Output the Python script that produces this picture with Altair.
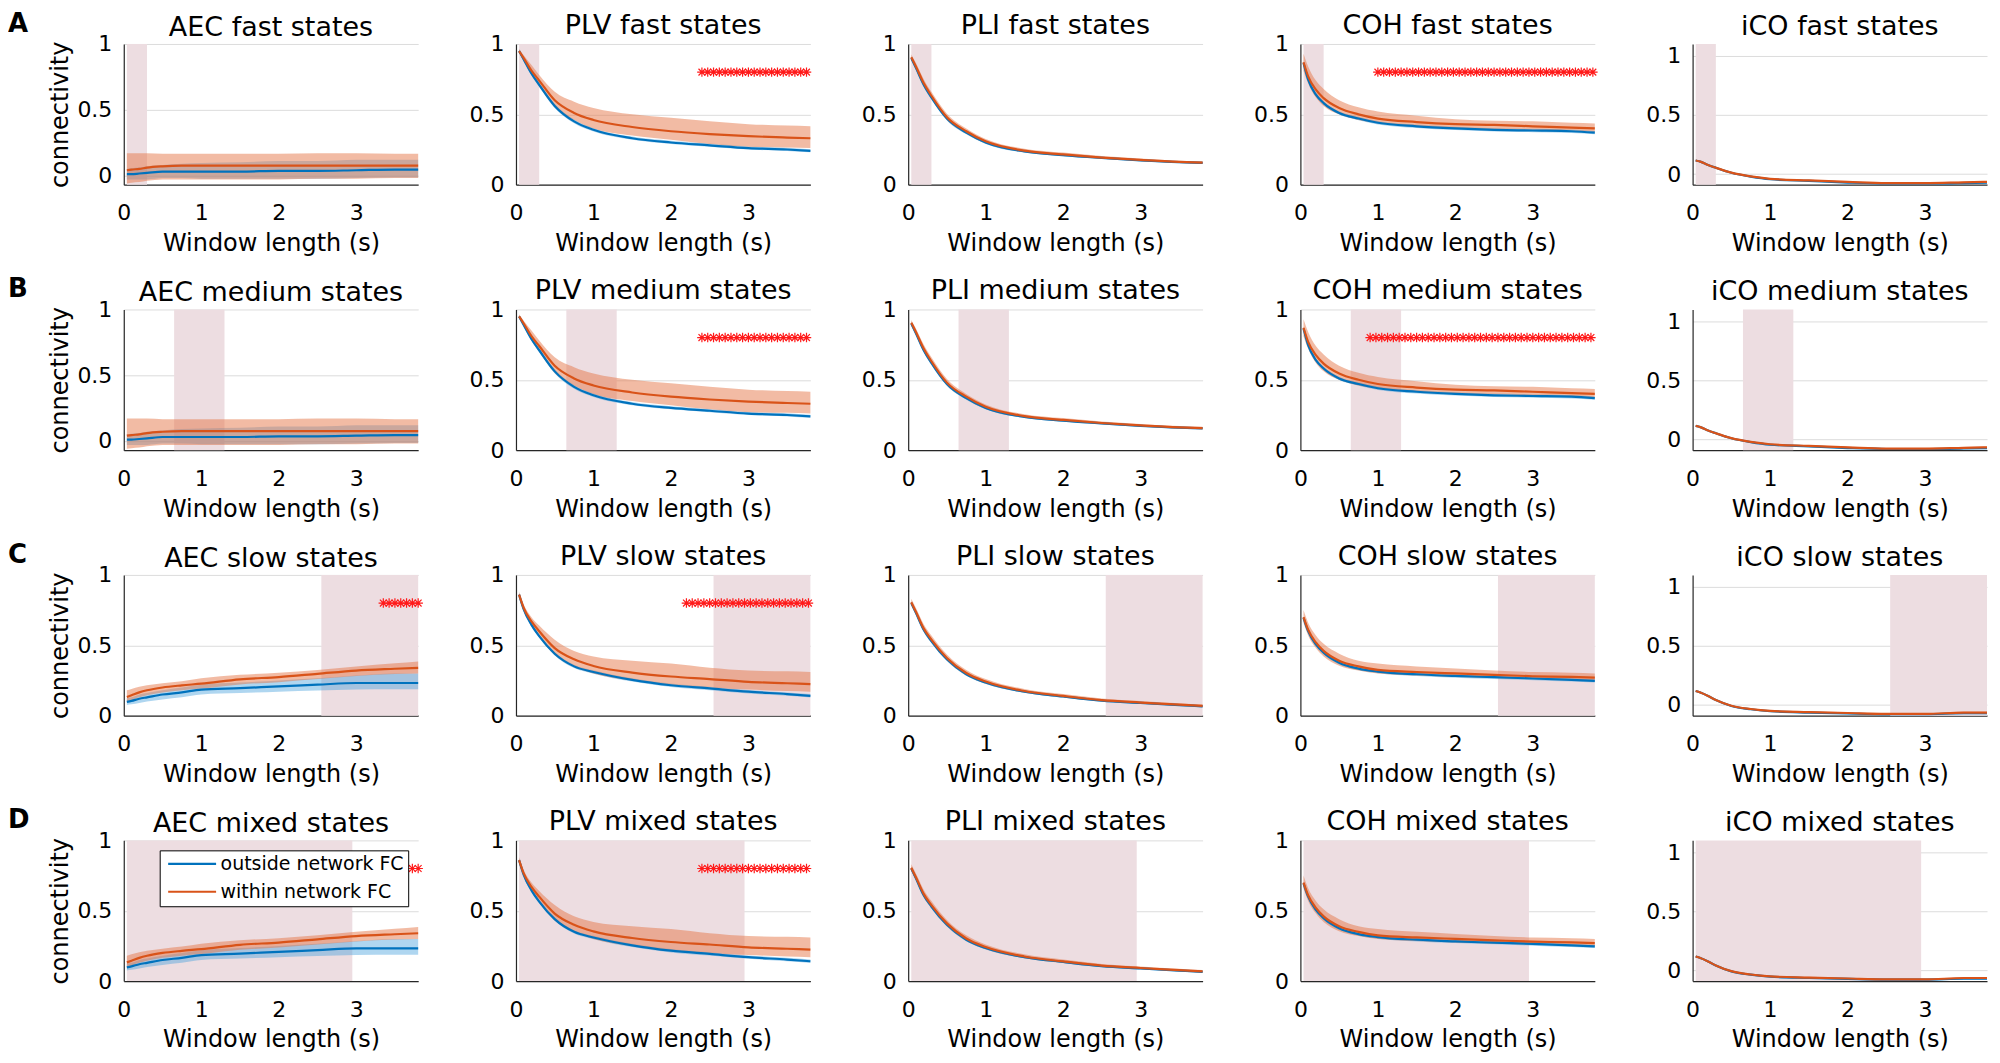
import altair as alt
import numpy as np
import pandas as pd

FONT = "DejaVu Sans"
BLUE = "#0072BD"
ORANGE = "#D95319"
BLUE_BAND = "#4da3dd"
ORANGE_BAND = "#e5784a"
HL_COLOR = "#eddde1"
STAR_RED = "#ff1a1a"

# ---------------- data ----------------
WIN = [0.04, 0.1, 0.2, 0.3, 0.5, 0.75, 1.0, 1.5, 2.0, 2.5, 3.0, 3.5, 3.8]
METRICS = ["AEC", "PLV", "PLI", "COH", "iCO"]
STATES = ["fast", "medium", "slow", "mixed"]
ROW_LETTERS = ["A", "B", "C", "D"]
STATE_GROUP = {"fast": 1, "medium": 1, "slow": 2, "mixed": 2}
SERIES = ["outside network FC", "within network FC"]
X_TICKS = [0, 1, 2, 3]
Y_TICKS = [0, 0.5, 1]
X_RANGE = [0, 3.8]

# group 1 (fast / medium states)
AEC1_OUT_MEAN = [0.010, 0.010, 0.015, 0.020, 0.030, 0.030, 0.030, 0.030, 0.035, 0.035, 0.040, 0.045, 0.045]
AEC1_OUT_LO = [-0.030, -0.030, -0.030, -0.030, -0.020, -0.020, -0.025, -0.025, -0.025, -0.025, -0.020, -0.015, -0.015]
AEC1_OUT_HI = [0.050, 0.055, 0.060, 0.070, 0.080, 0.090, 0.095, 0.100, 0.110, 0.110, 0.120, 0.120, 0.120]
AEC1_IN_MEAN = [0.040, 0.045, 0.050, 0.060, 0.070, 0.075, 0.075, 0.075, 0.075, 0.075, 0.075, 0.075, 0.075]
AEC1_IN_LO = [-0.060, -0.055, -0.050, -0.040, -0.030, -0.030, -0.030, -0.030, -0.030, -0.025, -0.025, -0.020, -0.020]
AEC1_IN_HI = [0.170, 0.170, 0.170, 0.170, 0.165, 0.165, 0.165, 0.165, 0.165, 0.170, 0.170, 0.165, 0.165]

PLV1_OUT_MEAN = [0.950, 0.890, 0.790, 0.710, 0.560, 0.450, 0.390, 0.330, 0.300, 0.280, 0.260, 0.250, 0.240]
PLV1_OUT_LO = [0.940, 0.875, 0.775, 0.695, 0.545, 0.437, 0.378, 0.320, 0.290, 0.270, 0.250, 0.240, 0.230]
PLV1_OUT_HI = [0.960, 0.905, 0.805, 0.725, 0.575, 0.463, 0.402, 0.342, 0.312, 0.292, 0.272, 0.262, 0.252]
PLV1_IN_MEAN = [0.950, 0.900, 0.810, 0.740, 0.600, 0.510, 0.460, 0.410, 0.380, 0.360, 0.345, 0.335, 0.330]
PLV1_IN_LO = [0.940, 0.880, 0.780, 0.700, 0.550, 0.460, 0.400, 0.350, 0.320, 0.290, 0.270, 0.265, 0.260]
PLV1_IN_HI = [0.965, 0.920, 0.850, 0.780, 0.660, 0.590, 0.545, 0.500, 0.475, 0.450, 0.430, 0.420, 0.415]

PLI1_OUT_MEAN = [0.900, 0.830, 0.710, 0.620, 0.470, 0.370, 0.300, 0.237, 0.210, 0.190, 0.173, 0.160, 0.155]
PLI1_OUT_LO = [0.885, 0.815, 0.695, 0.605, 0.457, 0.358, 0.290, 0.228, 0.202, 0.182, 0.166, 0.153, 0.148]
PLI1_OUT_HI = [0.915, 0.845, 0.725, 0.635, 0.483, 0.382, 0.310, 0.246, 0.218, 0.198, 0.180, 0.167, 0.162]
PLI1_IN_MEAN = [0.905, 0.840, 0.722, 0.632, 0.480, 0.380, 0.308, 0.242, 0.215, 0.193, 0.176, 0.162, 0.157]
PLI1_IN_LO = [0.885, 0.820, 0.700, 0.610, 0.460, 0.362, 0.292, 0.230, 0.204, 0.184, 0.167, 0.154, 0.149]
PLI1_IN_HI = [0.925, 0.865, 0.750, 0.660, 0.505, 0.400, 0.325, 0.256, 0.228, 0.204, 0.186, 0.171, 0.166]

COH1_OUT_MEAN = [0.865, 0.746, 0.640, 0.580, 0.510, 0.470, 0.440, 0.415, 0.400, 0.390, 0.385, 0.380, 0.370]
COH1_OUT_LO = [0.853, 0.734, 0.628, 0.568, 0.498, 0.458, 0.428, 0.403, 0.388, 0.378, 0.373, 0.368, 0.358]
COH1_OUT_HI = [0.877, 0.758, 0.652, 0.592, 0.522, 0.482, 0.452, 0.427, 0.412, 0.402, 0.397, 0.392, 0.382]
COH1_IN_MEAN = [0.870, 0.770, 0.675, 0.615, 0.545, 0.500, 0.470, 0.445, 0.430, 0.425, 0.415, 0.405, 0.400]
COH1_IN_LO = [0.810, 0.720, 0.620, 0.560, 0.500, 0.460, 0.440, 0.415, 0.400, 0.395, 0.390, 0.385, 0.375]
COH1_IN_HI = [0.930, 0.840, 0.740, 0.680, 0.600, 0.550, 0.520, 0.490, 0.465, 0.455, 0.450, 0.440, 0.435]

ICO1_OUT_MEAN = [0.115, 0.105, 0.076, 0.053, 0.011, -0.022, -0.044, -0.058, -0.072, -0.080, -0.080, -0.076, -0.072]
ICO1_OUT_LO = [0.109, 0.099, 0.070, 0.047, 0.005, -0.028, -0.050, -0.064, -0.078, -0.086, -0.086, -0.082, -0.078]
ICO1_OUT_HI = [0.121, 0.111, 0.082, 0.059, 0.017, -0.016, -0.038, -0.052, -0.066, -0.074, -0.074, -0.070, -0.066]
ICO1_IN_MEAN = [0.115, 0.105, 0.076, 0.053, 0.012, -0.020, -0.040, -0.054, -0.066, -0.077, -0.077, -0.070, -0.066]
ICO1_IN_LO = [0.109, 0.099, 0.070, 0.047, 0.006, -0.026, -0.046, -0.060, -0.072, -0.083, -0.083, -0.076, -0.072]
ICO1_IN_HI = [0.121, 0.111, 0.082, 0.059, 0.018, -0.014, -0.034, -0.048, -0.060, -0.071, -0.071, -0.064, -0.060]

# group 2 (slow / mixed states)
AEC2_OUT_MEAN = [0.098, 0.105, 0.120, 0.130, 0.150, 0.165, 0.185, 0.195, 0.208, 0.220, 0.232, 0.232, 0.232]
AEC2_OUT_LO = [0.075, 0.080, 0.090, 0.100, 0.115, 0.130, 0.150, 0.160, 0.170, 0.178, 0.185, 0.187, 0.187]
AEC2_OUT_HI = [0.125, 0.130, 0.150, 0.160, 0.180, 0.200, 0.220, 0.235, 0.250, 0.265, 0.285, 0.300, 0.300]
AEC2_IN_MEAN = [0.133, 0.145, 0.165, 0.180, 0.200, 0.215, 0.227, 0.258, 0.274, 0.297, 0.320, 0.333, 0.340]
AEC2_IN_LO = [0.095, 0.110, 0.130, 0.145, 0.165, 0.180, 0.192, 0.222, 0.238, 0.260, 0.282, 0.295, 0.300]
AEC2_IN_HI = [0.180, 0.190, 0.205, 0.215, 0.230, 0.245, 0.265, 0.290, 0.305, 0.325, 0.350, 0.372, 0.385]

PLV2_OUT_MEAN = [0.860, 0.755, 0.645, 0.565, 0.440, 0.350, 0.310, 0.254, 0.216, 0.193, 0.170, 0.153, 0.141]
PLV2_OUT_LO = [0.848, 0.743, 0.633, 0.553, 0.428, 0.338, 0.298, 0.242, 0.204, 0.181, 0.158, 0.141, 0.129]
PLV2_OUT_HI = [0.872, 0.767, 0.657, 0.577, 0.452, 0.362, 0.322, 0.266, 0.228, 0.205, 0.182, 0.165, 0.153]
PLV2_IN_MEAN = [0.860, 0.765, 0.670, 0.600, 0.480, 0.400, 0.353, 0.306, 0.278, 0.260, 0.240, 0.230, 0.224]
PLV2_IN_LO = [0.840, 0.740, 0.640, 0.560, 0.430, 0.350, 0.300, 0.250, 0.220, 0.200, 0.185, 0.175, 0.170]
PLV2_IN_HI = [0.880, 0.790, 0.700, 0.640, 0.540, 0.460, 0.420, 0.390, 0.370, 0.340, 0.320, 0.315, 0.310]

PLI2_OUT_MEAN = [0.800, 0.730, 0.610, 0.530, 0.400, 0.294, 0.235, 0.170, 0.136, 0.106, 0.090, 0.075, 0.066]
PLI2_OUT_LO = [0.785, 0.715, 0.595, 0.516, 0.388, 0.283, 0.225, 0.162, 0.128, 0.099, 0.083, 0.068, 0.059]
PLI2_OUT_HI = [0.815, 0.745, 0.625, 0.544, 0.412, 0.305, 0.245, 0.178, 0.144, 0.113, 0.097, 0.082, 0.073]
PLI2_IN_MEAN = [0.805, 0.738, 0.620, 0.540, 0.410, 0.303, 0.242, 0.175, 0.140, 0.110, 0.093, 0.078, 0.069]
PLI2_IN_LO = [0.785, 0.718, 0.598, 0.518, 0.390, 0.285, 0.227, 0.163, 0.129, 0.100, 0.084, 0.069, 0.060]
PLI2_IN_HI = [0.830, 0.765, 0.650, 0.570, 0.435, 0.325, 0.260, 0.190, 0.153, 0.122, 0.104, 0.088, 0.079]

COH2_OUT_MEAN = [0.695, 0.600, 0.506, 0.447, 0.376, 0.334, 0.313, 0.294, 0.282, 0.273, 0.264, 0.254, 0.247]
COH2_OUT_LO = [0.683, 0.588, 0.494, 0.435, 0.364, 0.322, 0.301, 0.282, 0.270, 0.261, 0.252, 0.242, 0.235]
COH2_OUT_HI = [0.707, 0.612, 0.518, 0.459, 0.388, 0.346, 0.325, 0.306, 0.294, 0.285, 0.276, 0.266, 0.259]
COH2_IN_MEAN = [0.700, 0.610, 0.520, 0.460, 0.390, 0.350, 0.325, 0.310, 0.300, 0.290, 0.280, 0.275, 0.270]
COH2_IN_LO = [0.660, 0.570, 0.480, 0.420, 0.355, 0.320, 0.300, 0.285, 0.275, 0.268, 0.260, 0.255, 0.250]
COH2_IN_HI = [0.750, 0.660, 0.570, 0.510, 0.440, 0.390, 0.370, 0.350, 0.335, 0.320, 0.310, 0.305, 0.300]

ICO2_OUT_MEAN = [0.118, 0.105, 0.076, 0.042, -0.008, -0.036, -0.052, -0.064, -0.072, -0.078, -0.078, -0.070, -0.070]
ICO2_OUT_LO = [0.112, 0.099, 0.070, 0.036, -0.014, -0.042, -0.058, -0.070, -0.078, -0.084, -0.084, -0.076, -0.076]
ICO2_OUT_HI = [0.124, 0.111, 0.082, 0.048, -0.002, -0.030, -0.046, -0.058, -0.066, -0.072, -0.072, -0.064, -0.064]
ICO2_IN_MEAN = [0.118, 0.105, 0.076, 0.042, -0.006, -0.034, -0.050, -0.060, -0.068, -0.075, -0.076, -0.064, -0.064]
ICO2_IN_LO = [0.112, 0.099, 0.070, 0.036, -0.012, -0.040, -0.056, -0.066, -0.074, -0.081, -0.082, -0.070, -0.070]
ICO2_IN_HI = [0.124, 0.111, 0.082, 0.048, 0.000, -0.028, -0.044, -0.054, -0.062, -0.069, -0.070, -0.058, -0.058]

CURVES = {
    ("AEC", 1): (AEC1_OUT_MEAN, AEC1_OUT_LO, AEC1_OUT_HI, AEC1_IN_MEAN, AEC1_IN_LO, AEC1_IN_HI),
    ("PLV", 1): (PLV1_OUT_MEAN, PLV1_OUT_LO, PLV1_OUT_HI, PLV1_IN_MEAN, PLV1_IN_LO, PLV1_IN_HI),
    ("PLI", 1): (PLI1_OUT_MEAN, PLI1_OUT_LO, PLI1_OUT_HI, PLI1_IN_MEAN, PLI1_IN_LO, PLI1_IN_HI),
    ("COH", 1): (COH1_OUT_MEAN, COH1_OUT_LO, COH1_OUT_HI, COH1_IN_MEAN, COH1_IN_LO, COH1_IN_HI),
    ("iCO", 1): (ICO1_OUT_MEAN, ICO1_OUT_LO, ICO1_OUT_HI, ICO1_IN_MEAN, ICO1_IN_LO, ICO1_IN_HI),
    ("AEC", 2): (AEC2_OUT_MEAN, AEC2_OUT_LO, AEC2_OUT_HI, AEC2_IN_MEAN, AEC2_IN_LO, AEC2_IN_HI),
    ("PLV", 2): (PLV2_OUT_MEAN, PLV2_OUT_LO, PLV2_OUT_HI, PLV2_IN_MEAN, PLV2_IN_LO, PLV2_IN_HI),
    ("PLI", 2): (PLI2_OUT_MEAN, PLI2_OUT_LO, PLI2_OUT_HI, PLI2_IN_MEAN, PLI2_IN_LO, PLI2_IN_HI),
    ("COH", 2): (COH2_OUT_MEAN, COH2_OUT_LO, COH2_OUT_HI, COH2_IN_MEAN, COH2_IN_LO, COH2_IN_HI),
    ("iCO", 2): (ICO2_OUT_MEAN, ICO2_OUT_LO, ICO2_OUT_HI, ICO2_IN_MEAN, ICO2_IN_LO, ICO2_IN_HI),
}

Y_DOMAIN = {
    ("AEC", 1): (-0.07, 1.0), ("AEC", 2): (0.0, 1.0),
    ("PLV", 1): (0.0, 1.0), ("PLV", 2): (0.0, 1.0),
    ("PLI", 1): (0.0, 1.0), ("PLI", 2): (0.0, 1.0),
    ("COH", 1): (0.0, 1.0), ("COH", 2): (0.0, 1.0),
    ("iCO", 1): (-0.09, 1.1), ("iCO", 2): (-0.09, 1.1),
}

# shaded state windows (s)
HIGHLIGHT = {"fast": (0.04, 0.30), "medium": (0.65, 1.30), "slow": (2.55, 3.80), "mixed": (0.04, 2.95)}

# significant window-length ranges (asterisks at connectivity 0.8)
SIG_LEVEL = 0.8
STAR_STEP = 0.075
SIG = {
    ("fast", "PLV"): (2.40, 3.80), ("fast", "COH"): (1.00, 3.80),
    ("medium", "PLV"): (2.40, 3.80), ("medium", "COH"): (0.90, 3.80),
    ("slow", "AEC"): (3.35, 3.80), ("slow", "PLV"): (2.20, 3.80),
    ("mixed", "AEC"): (3.65, 3.80), ("mixed", "PLV"): (2.40, 3.80),
}

STAR_PATH = "M-1,0L1,0M0,-1L0,1M-0.72,-0.72L0.72,0.72M-0.72,0.72L0.72,-0.72"

# per-column vertical nudge of the panel titles
TITLE_DY = {"AEC": 37, "PLV": 13, "PLI": 13, "COH": 13, "iCO": 3}

W, H = 295, 141


def make_panel(r, c):
    state = STATES[r]
    metric = METRICS[c]
    g = STATE_GROUP[state]
    cur = CURVES[(metric, g)]
    ymin, ymax = Y_DOMAIN[(metric, g)]

    xs = alt.Scale(domain=X_RANGE, nice=False, zero=False)
    ys = alt.Scale(domain=[ymin, ymax], nice=False, zero=False)
    ax_x = alt.Axis(values=X_TICKS, title="Window length (s)", grid=False, labelFlush=False)
    if c == 0:
        ax_y = alt.Axis(values=Y_TICKS, format="~g", title="connectivity", grid=True, labelFlush=False)
    else:
        ax_y = alt.Axis(values=Y_TICKS, format="~g", title=None, grid=True, labelFlush=False)

    out_df = pd.DataFrame({"x": WIN, "mean": cur[0], "lo": cur[1], "hi": cur[2], "series": SERIES[0]})
    in_df = pd.DataFrame({"x": WIN, "mean": cur[3], "lo": cur[4], "hi": cur[5], "series": SERIES[1]})
    lines_df = pd.concat([out_df, in_df], ignore_index=True)

    h0, h1 = HIGHLIGHT[state]
    rect_df = pd.DataFrame({"x0": [h0], "x1": [h1], "y0": [ymin], "y1": [ymax]})

    rect = alt.Chart(rect_df).mark_rect(color=HL_COLOR).encode(
        x=alt.X("x0:Q", scale=xs, axis=ax_x), x2="x1:Q",
        y=alt.Y("y0:Q", scale=ys, axis=ax_y), y2="y1:Q",
    )
    band_out = alt.Chart(out_df).mark_area(color=BLUE_BAND, opacity=0.45, interpolate="monotone").encode(
        x=alt.X("x:Q", scale=xs, axis=ax_x),
        y=alt.Y("lo:Q", scale=ys, axis=ax_y), y2="hi:Q",
    )
    band_in = alt.Chart(in_df).mark_area(color=ORANGE_BAND, opacity=0.5, interpolate="monotone").encode(
        x=alt.X("x:Q", scale=xs, axis=ax_x),
        y=alt.Y("lo:Q", scale=ys, axis=ax_y), y2="hi:Q",
    )

    if r == 3 and c == 0:
        legend = alt.Legend(
            title=None, orient="none", legendX=36, legendY=10,
            symbolType="M-3.43,0L3.43,0", symbolSize=196, symbolStrokeWidth=2.2,
            symbolOffset=19, labelOffset=19,
            labelFont=FONT, labelFontSize=19, labelColor="#000000", labelLimit=400,
            strokeColor="#000000", fillColor="#ffffff", padding=4, rowPadding=8,
        )
        color = alt.Color("series:N", scale=alt.Scale(domain=SERIES, range=[BLUE, ORANGE]), legend=legend)
    else:
        color = alt.Color("series:N", scale=alt.Scale(domain=SERIES, range=[BLUE, ORANGE]), legend=None)

    line = alt.Chart(lines_df).mark_line(strokeWidth=2.2, interpolate="monotone").encode(
        x=alt.X("x:Q", scale=xs, axis=ax_x),
        y=alt.Y("mean:Q", scale=ys, axis=ax_y),
        color=color,
    )
    layers = [rect, band_out, band_in, line]

    if (state, metric) in SIG:
        s0, s1 = SIG[(state, metric)]
        sx = np.round(np.arange(s0, s1 + 1e-9, STAR_STEP), 3)
        star_df = pd.DataFrame({"x": sx, "y": SIG_LEVEL})
        stars = alt.Chart(star_df).mark_point(
            shape=STAR_PATH, filled=False, color=STAR_RED, size=90, strokeWidth=1.2, opacity=1
        ).encode(
            x=alt.X("x:Q", scale=xs, axis=ax_x),
            y=alt.Y("y:Q", scale=ys, axis=ax_y),
        )
        layers.append(stars)

    if c == 0:
        letter = alt.Chart(pd.DataFrame({"t": [ROW_LETTERS[r]]})).mark_text(
            align="left", baseline="top", font=FONT, fontSize=26, fontWeight="bold", color="#000000"
        ).encode(text="t:N", x=alt.value(-116), y=alt.value(-33))
        layers.append(letter)

    return alt.layer(*layers).properties(
        width=W, height=H, title=alt.Title(f"{metric} {state} states", dy=TITLE_DY[metric])
    )


panels = [make_panel(r, c) for r in range(len(STATES)) for c in range(len(METRICS))]

chart = alt.concat(
    *panels, columns=5, spacing={"row": 125, "column": 98}, bounds="flush"
).resolve_scale(color="independent").properties(
    padding={"top": 2, "left": 0, "right": 0, "bottom": 0}
).configure_view(
    strokeWidth=0
).configure_axis(
    labelFont=FONT, titleFont=FONT, labelFontSize=22, titleFontSize=24,
    labelColor="#000000", titleColor="#000000", titleFontWeight="normal",
    domainColor="#262626", domainWidth=1.2, ticks=False,
    gridColor="#dcdcdc", gridWidth=1,
).configure_axisX(
    labelPadding=18, titlePadding=8
).configure_axisY(
    labelPadding=12, titlePadding=4
).configure_title(
    font=FONT, fontSize=27, fontWeight="normal", color="#000000",
    frame="group", anchor="middle", offset=6,
)

chart.save("out.html", embed_options={"renderer": "svg", "actions": False})
